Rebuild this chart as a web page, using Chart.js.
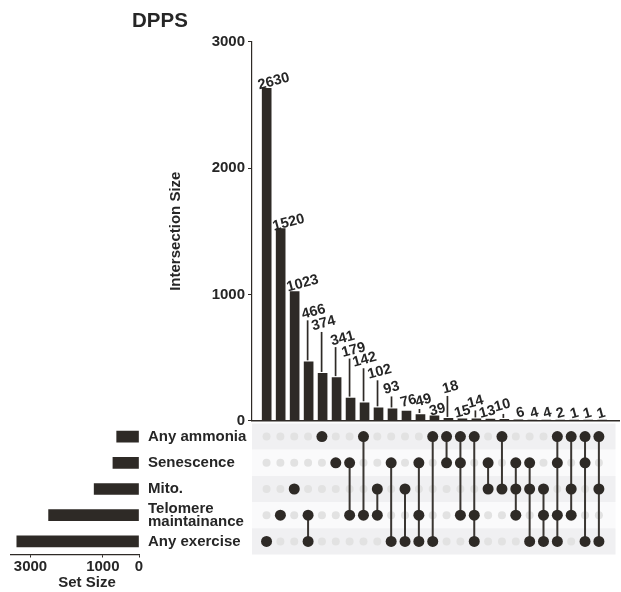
<!DOCTYPE html>
<html>
<head>
<meta charset="utf-8">
<script src="https://cdn.jsdelivr.net/npm/chart.js@4"></script>
<style>
  html, body { margin: 0; padding: 0; background: #ffffff; }
  #wrap { position: relative; width: 621px; height: 592px; overflow: hidden; background: #ffffff; }
  #wrap canvas { position: absolute; left: 0; top: 0; }
  #title { position: absolute; left: 132px; top: 8px; font: bold 20.5px "Liberation Sans", Arial, sans-serif; color: #262626; }
</style>
</head>
<body>
<div id="wrap">
  <canvas id="sets" width="621" height="592"></canvas>
  <canvas id="matrix" width="621" height="592"></canvas>
  <canvas id="bars" width="621" height="592"></canvas>
  <div id="title">DPPS</div>
</div>
<script>
// ---- data ----
const setNames = ['Any ammonia', 'Senescence', 'Mito.', ['Telomere', 'maintainance'], 'Any exercise'];
const setSizes = [617, 721, 1240, 2500, 3379];
const setSizeTicks = [0, 1000, 3000];
const intersectionTicks = [0, 1000, 2000, 3000];

// exclusive intersection sizes, largest first
const intersectionSizes = [2630, 1520, 1023, 466, 374, 341, 179, 142, 102, 93, 76, 49, 39,
                           18, 15, 14, 13, 10, 6, 4, 4, 2, 1, 1, 1];
// member sets of each intersection (indices into setNames)
const intersectionSets = [
  [4], [3], [2], [3, 4], [0], [1], [1, 3], [0, 3], [2, 3], [1, 4], [2, 4], [1, 3, 4], [0, 4],
  [0, 1], [0, 1, 3], [0, 3, 4], [1, 2], [0, 2], [1, 2, 3], [1, 2, 4], [2, 3, 4], [0, 1, 3, 4],
  [0, 2, 3], [0, 1, 4], [0, 2, 4]
];

// ---- layout & style ----
const W = 621, H = 592;
const PLOT_LEFT = 252, PLOT_RIGHT = 619;
const BAR_TOP = 41.7, BAR_BOTTOM = 420.7;
const MAT_TOP = 423.5, MAT_BOTTOM = 554.5;
const SET_LEFT = 11, SET_RIGHT = 139;
const X_MIN = -1.05, X_MAX = 25.2;
const DARK = '#2e2a26';
const TEXT = '#262626';
const FONT_FAMILY = '"Liberation Sans", Arial, Helvetica, sans-serif';
const axisFont = { family: FONT_FAMILY, size: 15, weight: 'bold' };

// label placement offsets (px from the top centre of each bar) and whether a leader line is drawn
const labelNudges = [
  [7, -7, 0], [8, -6, 0], [8, -8, 0], [5, -50, 1], [1, -50, 1], [6, -39, 1], [3, -48, 1],
  [0, -43, 1], [1, -36, 1], [-1, -21, 1], [2, -10, 0], [3, -14, 1], [3, -6, 0], [2, -31, 1],
  [0, -7, 0], [-1, -17, 1], [-3, -7, 0], [-2, -14, 1], [2, -7, 0], [2, -7, 0], [1, -7, 0],
  [0, -7, 0], [0, -7, 0], [-1, -7, 0], [-1, -7, 0]
];

// ---- intersection size bars ----
const barLabels = {
  id: 'barValueLabels',
  afterDatasetsDraw(chart) {
    const { ctx, scales: { x, y } } = chart;
    ctx.save();
    ctx.font = 'bold 14.5px ' + FONT_FAMILY;
    ctx.fillStyle = TEXT;
    ctx.strokeStyle = DARK;
    ctx.lineWidth = 1.7;
    ctx.textAlign = 'center';
    ctx.textBaseline = 'middle';
    intersectionSizes.forEach((v, i) => {
      const bx = x.getPixelForValue(i);
      const by = y.getPixelForValue(v);
      const [dx, dy, lead] = labelNudges[i];
      const lx = bx + dx, ly = by + dy;
      if (lead) {
        ctx.beginPath();
        ctx.moveTo(bx - 1, by - 1.5);
        ctx.lineTo(bx - 1, ly + 8.5);
        ctx.stroke();
      }
      ctx.save();
      ctx.translate(lx, ly);
      ctx.rotate(-15 * Math.PI / 180);
      ctx.fillText(String(v), 0, 0);
      ctx.restore();
    });
    ctx.restore();
  }
};

new Chart(document.getElementById('bars'), {
  type: 'bar',
  data: {
    datasets: [{
      data: intersectionSizes.map((v, i) => ({ x: i, y: v })),
      backgroundColor: DARK,
      barThickness: 9
    }]
  },
  options: {
    responsive: false,
    animation: false,
    events: [],
    layout: { padding: { left: PLOT_LEFT - 86, right: W - PLOT_RIGHT, top: BAR_TOP, bottom: H - BAR_BOTTOM } },
    plugins: { legend: { display: false }, tooltip: { enabled: false } },
    scales: {
      x: {
        type: 'linear', min: X_MIN, max: X_MAX, offset: false,
        ticks: { display: false },
        grid: { drawOnChartArea: false, drawTicks: false },
        border: { display: true, color: DARK, width: 1.5 },
        afterFit(s) { s.height = 0; }
      },
      y: {
        min: 0, max: 3000,
        afterBuildTicks(s) { s.ticks = intersectionTicks.map(v => ({ value: v })); },
        ticks: { font: axisFont, color: TEXT, padding: 3, callback: v => String(v) },
        grid: { drawOnChartArea: false, drawTicks: true, tickLength: 4, tickColor: DARK },
        border: { display: true, color: DARK, width: 1.2 },
        title: { display: true, text: 'Intersection Size', font: axisFont, color: TEXT, padding: { top: 1, bottom: 0 } },
        afterFit(s) { s.width = 86; }
      }
    }
  },
  plugins: [barLabels]
});

// ---- membership matrix ----
const stripes = {
  id: 'rowStripes',
  beforeDatasetsDraw(chart) {
    const { ctx, chartArea, scales: { y } } = chart;
    ctx.save();
    for (let r = 0; r < setNames.length; r++) {
      const t = y.getPixelForValue(r - 0.5);
      const b = y.getPixelForValue(r + 0.5);
      ctx.fillStyle = r % 2 === 0 ? '#f0f0f2' : '#fafafb';
      ctx.fillRect(chartArea.left, Math.min(t, b), chartArea.right - chartArea.left, Math.abs(b - t));
    }
    ctx.restore();
  }
};

const activeDots = [], inactiveDots = [], linkSets = [];
intersectionSets.forEach((members, c) => {
  for (let r = 0; r < setNames.length; r++) {
    (members.includes(r) ? activeDots : inactiveDots).push({ x: c, y: r });
  }
  if (members.length > 1) {
    linkSets.push({
      data: [{ x: c, y: Math.min(...members) }, { x: c, y: Math.max(...members) }],
      showLine: true, borderColor: '#3a3632', borderWidth: 2, pointRadius: 0, order: 1
    });
  }
});

new Chart(document.getElementById('matrix'), {
  type: 'scatter',
  data: {
    datasets: [
      { data: activeDots, pointRadius: 5.5, backgroundColor: DARK, borderWidth: 0, order: 0 },
      ...linkSets,
      { data: inactiveDots, pointRadius: 4, backgroundColor: '#e2e2e2', borderWidth: 0, order: 2 }
    ]
  },
  options: {
    responsive: false,
    animation: false,
    events: [],
    layout: { padding: { left: PLOT_LEFT, right: W - PLOT_RIGHT, top: MAT_TOP, bottom: H - MAT_BOTTOM } },
    plugins: { legend: { display: false }, tooltip: { enabled: false } },
    scales: {
      x: { type: 'linear', min: X_MIN, max: X_MAX, display: false },
      y: { type: 'linear', min: -0.5, max: setNames.length - 0.5, reverse: true, display: false }
    }
  },
  plugins: [stripes]
});

// ---- set size bars ----
// axis caption sits centred under the whole set-size panel (bars plus tick labels)
const setSizeCaption = {
  id: 'setSizeCaption',
  afterDraw(chart) {
    const { ctx } = chart;
    ctx.save();
    ctx.font = 'bold 15px ' + FONT_FAMILY;
    ctx.fillStyle = TEXT;
    ctx.textAlign = 'center';
    ctx.textBaseline = 'middle';
    ctx.fillText('Set Size', 87, 583);
    ctx.restore();
  }
};

new Chart(document.getElementById('sets'), {
  type: 'bar',
  data: {
    labels: setNames,
    datasets: [{ data: setSizes, backgroundColor: DARK, barThickness: 11 }]
  },
  options: {
    indexAxis: 'y',
    responsive: false,
    animation: false,
    events: [],
    layout: { padding: { left: SET_LEFT, right: W - PLOT_LEFT, top: MAT_TOP, bottom: 0 } },
    plugins: { legend: { display: false }, tooltip: { enabled: false } },
    scales: {
      x: {
        type: 'linear', reverse: true, min: 0, max: 3540,
        afterBuildTicks(s) { s.ticks = setSizeTicks.map(v => ({ value: v })); },
        ticks: { font: axisFont, color: TEXT, padding: 0, maxRotation: 0, callback: v => String(v) },
        grid: { drawOnChartArea: false, drawTicks: true, tickLength: 3, tickColor: DARK },
        border: { display: true, color: DARK, width: 1.2 },
        afterFit(s) { s.height = H - MAT_BOTTOM; }
      },
      y: {
        position: 'right',
        ticks: { font: { family: FONT_FAMILY, size: 15, weight: 'bold', lineHeight: 0.85 }, color: TEXT, padding: 9, autoSkip: false },
        grid: { display: false, drawTicks: false },
        border: { display: false },
        afterFit(s) { s.width = PLOT_LEFT - SET_RIGHT; }
      }
    }
  },
  plugins: [setSizeCaption]
});
</script>
</body>
</html>
